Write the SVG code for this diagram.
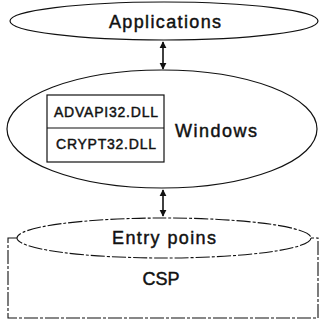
<svg xmlns="http://www.w3.org/2000/svg" width="320" height="321" viewBox="0 0 320 321">
  <defs>
    <style>
      .shape { fill: none; stroke: #111; stroke-width: 1.2; }
      .dash { fill: none; stroke: #111; stroke-width: 1.1; stroke-dasharray: 14 2 3 2; }
      .lbl { font-family: "Liberation Sans", Arial, sans-serif; fill: #111; stroke: #111; stroke-width: 0.45; text-anchor: middle; }
      .big { font-size: 18px; }
      .small { font-size: 14px; }
      .conn { stroke: #111; stroke-width: 1.6; fill: none; marker-start: url(#ah); marker-end: url(#ah); }
    </style>
    <marker id="ah" viewBox="0 0 10 10" refX="9" refY="5" markerWidth="4.5" markerHeight="4.5" orient="auto-start-reverse" markerUnits="strokeWidth">
      <path d="M0 0 L10 5 L0 10 Z" fill="#111"/>
    </marker>
  </defs>
  <rect width="320" height="321" fill="#fff"/>

  <g id="connectors">
    <line class="conn" x1="163" y1="42" x2="163" y2="69"/>
    <line class="conn" x1="163" y1="190" x2="163" y2="216"/>
  </g>

  <g id="applications">
    <ellipse class="shape" cx="164" cy="21" rx="154" ry="19"/>
    <text class="lbl big" x="165" y="28" textLength="112">Applications</text>
  </g>

  <g id="windows">
    <ellipse class="shape" cx="162" cy="129" rx="155" ry="59"/>
    <text class="lbl big" x="216" y="137" font-size="19" textLength="82">Windows</text>
  </g>

  <g id="dll-box">
    <rect class="shape" x="47" y="95" width="117" height="67"/>
    <line class="shape" x1="47" y1="128" x2="164" y2="128"/>
    <text class="lbl small" x="106" y="117" textLength="104">ADVAPI32.DLL</text>
    <text class="lbl small" x="106" y="149" textLength="100">CRYPT32.DLL</text>
  </g>

  <g id="csp">
    <path class="dash" d="M17 238 H8 V318 H318 V238 H311"/>
    <text class="lbl big" x="161" y="285">CSP</text>
  </g>

  <g id="entry-points">
    <ellipse class="dash" cx="164" cy="238" rx="147" ry="20"/>
    <text class="lbl big" x="164" y="244" textLength="104">Entry poins</text>
  </g>
</svg>
